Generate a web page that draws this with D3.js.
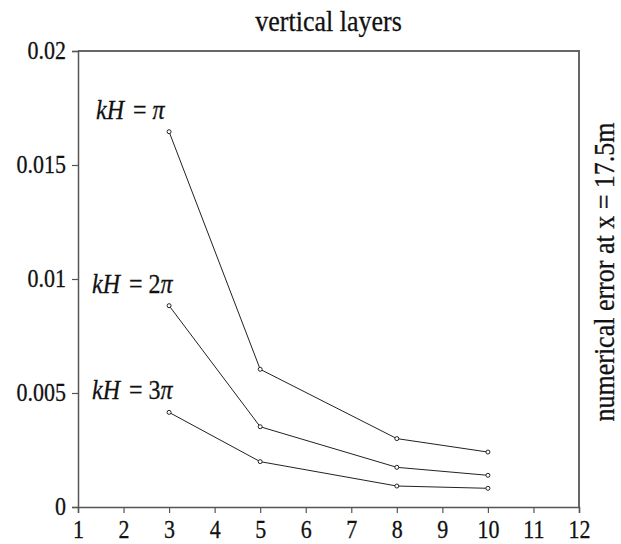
<!DOCTYPE html>
<html>
<head>
<meta charset="utf-8">
<script src="https://cdn.jsdelivr.net/npm/d3@7"></script>
<style>
  body { margin: 0; background: #fff; }
  text { font-family: "Liberation Serif", "Times New Roman", serif; fill: #111; stroke: #111; stroke-width: 0.25; }
</style>
</head>
<body>
<div id="chart"></div>
<script>
"use strict";

/*** Data */
const layers = [3, 5, 8, 10];
const errPi = [0.01646, 0.00604, 0.0030, 0.00241];
const err2Pi = [0.00883, 0.00352, 0.00174, 0.00139];
const err3Pi = [0.00415, 0.00199, 0.00092, 0.00082];
const seriesNames = ["", "2", "3"]; // multiplier shown before pi
const xTicks = [1, 2, 3, 4, 5, 6, 7, 8, 9, 10, 11, 12];
const yTicks = [0, 0.005, 0.01, 0.015, 0.02];

/*** Dimensions */
const w = 621;
const h = 544;
const margin = {top: 51, right: 42, bottom: 37, left: 78};
const stretch = 1.12; // source text is a bit taller than wide

const svg = d3.select("#chart")
    .append("svg")
    .attr("width", w)
    .attr("height", h);

const x = d3.scaleLinear().domain([1, 12]).range([margin.left, w - margin.right]);
const y = d3.scaleLinear().domain([0, 0.02]).range([h - margin.bottom, margin.top]);

/* frame (top and right) */
svg.append("path")
    .attr("d", `M${x(1)},${y(0.02)}H${x(12)}V${y(0)}`)
    .attr("fill", "none")
    .attr("stroke", "#666")
    .attr("stroke-width", 2);

/* axes */
const fmtY = d => d === 0 ? "0" : String(d);

const yAxis = svg.append("g")
    .attr("transform", `translate(${x(1)},0)`)
    .call(d3.axisLeft(y).tickValues(yTicks).tickSize(6).tickFormat(fmtY));

const xAxis = svg.append("g")
    .attr("transform", `translate(0,${y(0)})`)
    .call(d3.axisBottom(x).tickValues(xTicks).tickSize(6).tickFormat(d3.format("d")));

[xAxis, yAxis].forEach(g => {
    g.select(".domain").attr("stroke", "#555").attr("stroke-width", 1.5);
    g.selectAll(".tick line").attr("stroke", "#555").attr("stroke-width", 1.2);
    g.selectAll(".tick text")
        .attr("font-size", 22)
        .attr("fill", "#111");
});

yAxis.selectAll(".tick text")
    .attr("x", null).attr("dy", null)
    .attr("text-anchor", "end")
    .attr("transform", `translate(-12,7.5) scale(1,${stretch})`);

xAxis.selectAll(".tick text")
    .attr("y", null).attr("dy", null)
    .attr("transform", `translate(0,31) scale(1,${stretch})`);

/* title and side label */
svg.append("text")
    .attr("text-anchor", "middle")
    .attr("font-size", 26)
    .attr("transform", `translate(${(x(1) + x(12)) / 2},31) scale(1,${stretch})`)
    .text("vertical layers");

svg.append("text")
    .attr("text-anchor", "middle")
    .attr("font-size", 26)
    .attr("transform", `translate(614,272) rotate(-90) scale(1,${stretch})`)
    .text("numerical error at x = 17.5m");

/* lines */
const series = [errPi, err2Pi, err3Pi];
const line = d3.line()
    .x((d, i) => x(layers[i]))
    .y(d => y(d));

series.forEach((vals, k) => {
    svg.append("path")
        .datum(vals)
        .attr("d", line)
        .attr("fill", "none")
        .attr("stroke", "#222")
        .attr("stroke-width", 1);

    svg.append("g")
        .selectAll("circle")
        .data(vals)
        .enter()
        .append("circle")
        .attr("cx", (d, i) => x(layers[i]))
        .attr("cy", d => y(d))
        .attr("r", 2)
        .attr("fill", "#fff")
        .attr("stroke", "#222")
        .attr("stroke-width", 1);

    /* label kH = n*pi above first point */
    const lbl = svg.append("text")
        .attr("font-size", 24)
        .attr("transform", `translate(${x(layers[0]) - (k === 0 ? 73 : 77)},${y(vals[0]) - 13}) scale(1,${stretch})`);
    lbl.append("tspan").attr("font-style", "italic").text("kH");
    lbl.append("tspan").attr("dx", 3).text(" = " + seriesNames[k]);
    lbl.append("tspan").attr("font-style", "italic").text("π");
});
</script>
</body>
</html>
